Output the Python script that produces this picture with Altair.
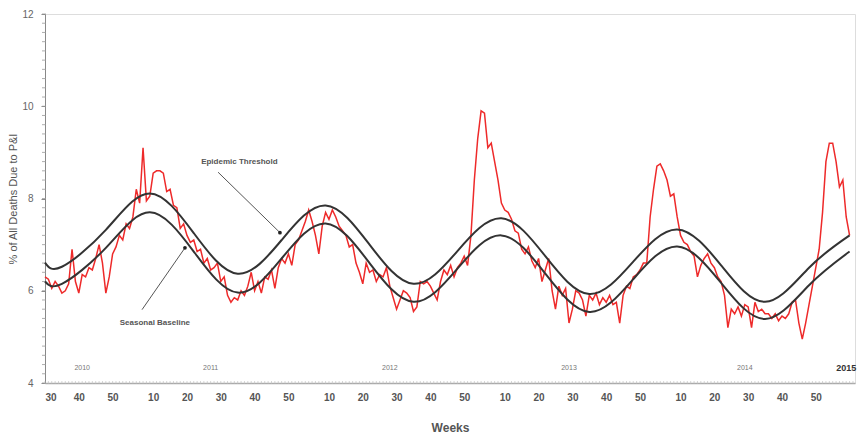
import altair as alt
import pandas as pd
import numpy as np

# Weekly % of all deaths due to P&I, starting at 2010 week 30
pi_pct = [
    6.3, 6.25, 6.05, 6.2, 6.1, 5.95, 6.0, 6.15, 6.9, 6.2,
    5.95, 6.35, 6.3, 6.5, 6.45, 6.7, 7.0, 6.6, 5.95, 6.3,
    6.8, 6.95, 7.2, 7.1, 7.45, 7.35, 7.6, 8.2, 7.9, 9.1,
    7.95, 8.05, 8.55, 8.6, 8.6, 8.55, 8.15, 8.2, 7.85, 7.8,
    7.35, 7.45, 7.2, 7.05, 7.1, 6.85, 6.9, 6.6, 6.7, 6.45,
    6.5, 6.6, 6.2, 6.3, 5.9, 5.75, 5.85, 5.8, 6.0, 5.9,
    6.1, 6.4, 6.0, 6.2, 5.95, 6.3, 6.25, 6.45, 6.05, 6.5,
    6.7, 6.6, 6.8, 6.55, 7.0, 7.1, 7.3, 7.5, 7.75, 7.5,
    7.2, 6.8, 7.4, 7.7, 7.55, 7.75, 7.6, 7.4, 7.3, 7.2,
    6.95, 7.0, 6.6, 6.4, 6.15, 6.6, 6.4, 6.45, 6.2, 6.35,
    6.3, 6.5, 6.1, 5.85, 5.6, 5.8, 6.0, 5.95, 5.85, 5.55,
    5.65, 6.2, 6.15, 6.2, 6.1, 5.95, 5.8, 6.2, 6.45, 6.35,
    6.55, 6.3, 6.5, 6.6, 6.75, 6.55, 7.2, 8.4, 9.3, 9.9,
    9.85, 9.1, 9.2, 8.8, 8.4, 7.9, 7.75, 7.7, 7.55, 7.3,
    7.25, 6.9, 6.8, 6.95, 6.65, 6.5, 6.7, 6.2, 6.45, 6.7,
    6.0, 5.6, 6.1, 5.9, 6.05, 5.3, 5.6, 6.0, 5.95, 5.8,
    5.45, 5.9, 5.8, 5.95, 5.7, 5.85, 5.75, 5.9, 5.7, 5.75,
    5.3, 5.9, 6.1, 6.05, 6.3, 6.35, 6.45, 6.6, 6.6, 7.6,
    8.2, 8.7, 8.75, 8.6, 8.4, 8.05, 8.1, 7.6, 7.2, 7.05,
    7.0, 6.85, 6.75, 6.3, 6.55, 6.7, 6.8, 6.6, 6.5, 6.3,
    6.2, 5.9, 5.2, 5.6, 5.5, 5.65, 5.45, 5.7, 5.65, 5.2,
    5.75, 5.55, 5.6, 5.5, 5.5, 5.4, 5.5, 5.35, 5.45, 5.4,
    5.5, 5.75, 5.8, 5.3, 4.95, 5.3, 5.7, 6.1, 6.5, 6.9,
    7.7, 8.8, 9.2, 9.2, 8.8, 8.25, 8.4, 7.6, 7.2,
]

# Epidemic threshold and seasonal baseline, read at selected weeks
curve_weeks = [0, 5, 18, 31, 44, 57, 70, 83, 96, 109, 122, 135, 148, 161, 174, 187, 200, 213, 226, 238]
threshold = [6.61, 6.52, 7.32, 8.11, 7.25, 6.37, 7.1, 7.85, 7.0, 6.15,
             6.86, 7.57, 6.75, 5.93, 6.63, 7.33, 6.55, 5.76, 6.5, 7.2]
baseline = [6.2, 6.15, 6.93, 7.7, 6.85, 5.96, 6.7, 7.46, 6.6, 5.76,
            6.48, 7.2, 6.37, 5.54, 6.25, 6.96, 6.17, 5.39, 6.12, 6.85]

# x-axis tick positions (week index) and labels (week of year)
tick_weeks = [0, 10, 20, 32, 42, 52, 62, 72, 84, 94, 104, 114, 124,
              136, 146, 156, 166, 176, 188, 198, 208, 218, 228]
tick_labels = ["30", "40", "50", "10", "20", "30", "40", "50", "10", "20", "30", "40", "50",
               "10", "20", "30", "40", "50", "10", "20", "30", "40", "50"]

year_labels = ["2010", "2011", "2012", "2013", "2014"]
year_weeks = [11, 49, 102, 155, 207]
last_year_label = ["2015"]
last_year_week = [237]

ann_text = ["Epidemic Threshold", "Seasonal Baseline"]
ann_text_w = [57.5, 32.5]
ann_text_v = [8.8, 5.3]
ann_from_w = [51.2, 28.7]
ann_from_v = [8.57, 5.59]
ann_to_w = [69.5, 41.4]
ann_to_v = [7.26, 6.93]

W, H = 810, 369

df_pi = pd.DataFrame({"w": list(range(len(pi_pct))), "v": pi_pct})
df_curve = pd.DataFrame({"w": curve_weeks, "thr": threshold, "base": baseline})
df_years = pd.DataFrame({"w": year_weeks, "v": [4.33] * len(year_weeks), "label": year_labels})
df_last = pd.DataFrame({"w": last_year_week, "v": [4.33], "label": last_year_label})
df_ann_t = pd.DataFrame({"w": ann_text_w, "v": ann_text_v, "label": ann_text})
df_ann_l = pd.DataFrame({"w": ann_from_w, "v": ann_from_v, "w2": ann_to_w, "v2": ann_to_v})
df_ann_p = pd.DataFrame({"w": ann_to_w, "v": ann_to_v})
df_yminor = pd.DataFrame({"v": np.round(np.arange(4.0, 12.01, 0.2), 2)})
df_xminor = pd.DataFrame({"w": list(range(0, 240))})

label_expr = "[" + ",".join("'%s'" % s for s in tick_labels) + "][indexof([" + \
    ",".join(str(t) for t in tick_weeks) + "], datum.value)]"

X = alt.X("w:Q",
          scale=alt.Scale(domain=[0, 239.6], nice=False, zero=False),
          axis=alt.Axis(values=tick_weeks, labelExpr=label_expr, title="Weeks",
                        grid=False, ticks=False, labelPadding=9, labelFontSize=10,
                        labelFontWeight="bold", labelColor="#555", labelFont="Liberation Sans",
                        domainColor="#aaa", domainWidth=1.5,
                        titleFont="Liberation Sans", titleFontSize=12, titleFontWeight="bold",
                        titleColor="#555", titlePadding=20))
Y = alt.Y("v:Q",
          scale=alt.Scale(domain=[4, 12], nice=False, zero=False),
          axis=alt.Axis(values=[4, 6, 8, 10, 12], title="% of All Deaths Due to P&I",
                        grid=False, tickSize=4, tickColor="#888", labelPadding=8,
                        labelFontSize=10, labelColor="#666", labelFont="Liberation Sans",
                        domainColor="#888",
                        titleFont="Liberation Sans", titleFontSize=11, titleFontWeight="normal",
                        titleColor="#555", titlePadding=3))

thr_line = alt.Chart(df_curve).mark_line(color="#333333", strokeWidth=2, interpolate="natural").encode(
    x=X, y=alt.Y("thr:Q", scale=alt.Scale(domain=[4, 12], nice=False, zero=False)))
base_line = alt.Chart(df_curve).mark_line(color="#333333", strokeWidth=2, interpolate="natural").encode(
    x=X, y=alt.Y("base:Q", scale=alt.Scale(domain=[4, 12], nice=False, zero=False)))
pi_line = alt.Chart(df_pi).mark_line(color="#ee2a2a", strokeWidth=1.5).encode(x=X, y=Y)

yminor = alt.Chart(df_yminor).mark_rule(color="#999", strokeWidth=0.8).encode(
    y=Y, x=alt.value(-3), x2=alt.value(1))
xminor = alt.Chart(df_xminor).mark_rule(color="#bbb", strokeWidth=0.6).encode(
    x=X, y=alt.value(H - 2), y2=alt.value(H + 1))

years = alt.Chart(df_years).mark_text(fontSize=7, color="#777", font="Liberation Sans").encode(
    x=X, y=Y, text="label:N")
last_year = alt.Chart(df_last).mark_text(fontSize=9, color="#333", fontWeight="bold",
                                         font="Liberation Sans").encode(x=X, y=Y, text="label:N")

ann_lines = alt.Chart(df_ann_l).mark_rule(color="#555", strokeWidth=1).encode(
    x=X, y=Y, x2="w2:Q", y2="v2:Q")
ann_pts = alt.Chart(df_ann_p).mark_point(filled=True, color="#222", size=14, opacity=1).encode(x=X, y=Y)
ann_txt = alt.Chart(df_ann_t).mark_text(fontSize=8, color="#555", fontWeight="bold",
                                        font="Liberation Sans").encode(x=X, y=Y, text="label:N")

chart = alt.layer(yminor, xminor, pi_line, thr_line, base_line, ann_lines, ann_pts, ann_txt,
                  years, last_year).properties(
    width=W, height=H, autosize="none",
    padding={"left": 45, "top": 14, "right": 3, "bottom": 54},
).configure_view(stroke=None).configure(background="white")

chart.save("out.html", embed_options={"renderer": "svg", "actions": False})
